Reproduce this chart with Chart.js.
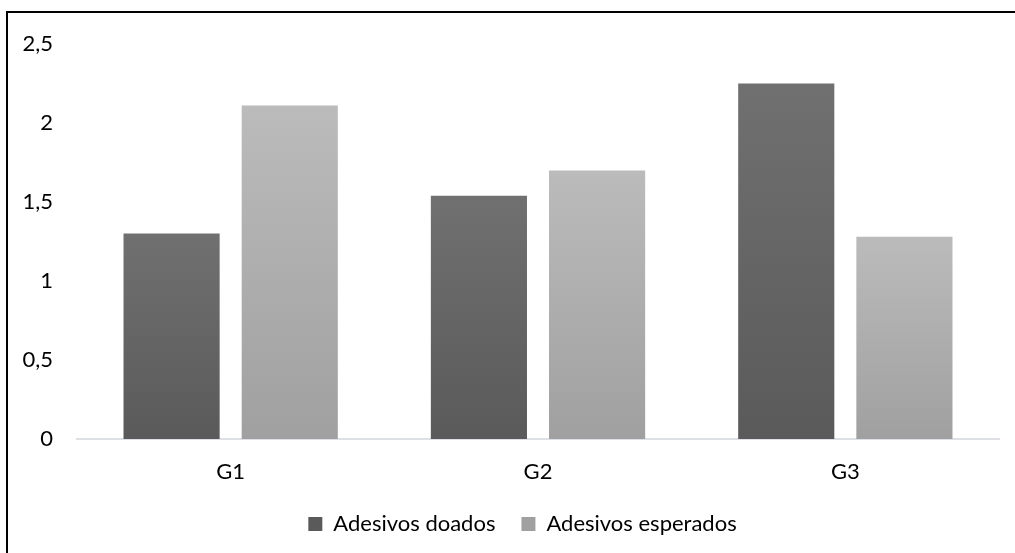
<!DOCTYPE html>
<html>
<head>
<meta charset="utf-8">
<script src="https://cdn.jsdelivr.net/npm/chart.js@4"></script>
<style>
  html, body { margin: 0; padding: 0; background: #fff; overflow: hidden; }
  #frame {
    position: absolute; left: 6px; top: 11px;
    width: 1009px; height: 542px;
    border-left: 2px solid #000; border-top: 2px solid #000;
  }
  #box { position: absolute; left: 0; top: 0; width: 1007px; height: 540px; }
</style>
</head>
<body>
<div id="frame"><div id="box"><canvas id="chart"></canvas></div></div>
<script>
const groups = ["G1", "G2", "G3"];
const doados = [1.30, 1.54, 2.25];
const esperados = [2.11, 1.70, 1.28];
const seriesNames = ["Adesivos doados", "Adesivos esperados"];
const yTicks = [0, 0.5, 1, 1.5, 2, 2.5];

// cores: topo e base do degradê de cada barra
const darkFill = ["#707070", "#5a5a5a"];
const lightFill = ["#bbbbbb", "#a0a0a0"];

function barFill(colors) {
  return (ctx) => {
    if (ctx.type !== "data") return colors[0] === darkFill[0] ? "#666666" : "#b0b0b0";
    const chart = ctx.chart;
    const y = chart.scales.y;
    if (!chart.chartArea || !y) return colors[1];
    const top = y.getPixelForValue(ctx.raw);
    const base = y.getPixelForValue(0);
    if (!isFinite(top) || !isFinite(base) || top === base) return colors[1];
    const g = chart.ctx.createLinearGradient(0, top, 0, base);
    g.addColorStop(0, colors[0]);
    g.addColorStop(1, colors[1]);
    return g;
  };
}

// a legenda do original fica um pouco à direita do centro
const legendShift = {
  id: "legendShift",
  afterLayout(chart) {
    if (chart.legend) {
      chart.legend.left += 19;
      chart.legend.right += 19;
    }
  }
};

Chart.defaults.font.family = "Lato, 'Open Sans', sans-serif";
Chart.defaults.font.size = 22;
Chart.defaults.color = "#000";

new Chart(document.getElementById("chart"), {
  type: "bar",
  data: {
    labels: groups,
    datasets: [
      { label: seriesNames[0], data: doados, backgroundColor: barFill(darkFill),
        categoryPercentage: 0.769, barPercentage: 0.8136 },
      { label: seriesNames[1], data: esperados, backgroundColor: barFill(lightFill),
        categoryPercentage: 0.769, barPercentage: 0.8136 }
    ]
  },
  plugins: [legendShift],
  options: {
    responsive: true,
    maintainAspectRatio: false,
    animation: false,
    layout: { padding: { top: 31, right: 16, left: 0, bottom: 8 } },
    plugins: {
      tooltip: { enabled: false },
      legend: {
        position: "bottom",
        labels: { boxWidth: 14, boxHeight: 14, padding: 26, color: "#000" }
      }
    },
    scales: {
      x: {
        grid: { display: false, drawTicks: false },
        border: { display: true, color: "#dde1e5", width: 2 },
        ticks: { padding: 20 },
        afterFit: (s) => { s.height = 48; s.paddingLeft = 0; s.paddingRight = 0; }
      },
      y: {
        min: 0, max: 2.5,
        afterBuildTicks: (s) => { s.ticks = yTicks.map(v => ({ value: v })); },
        grid: { display: false, drawTicks: false },
        border: { display: false },
        ticks: { padding: 24, callback: (v) => String(v).replace(".", ",") },
        afterFit: (s) => { s.width = 69; s.paddingTop = 0; s.paddingBottom = 0; }
      }
    }
  }
});
</script>
</body>
</html>
